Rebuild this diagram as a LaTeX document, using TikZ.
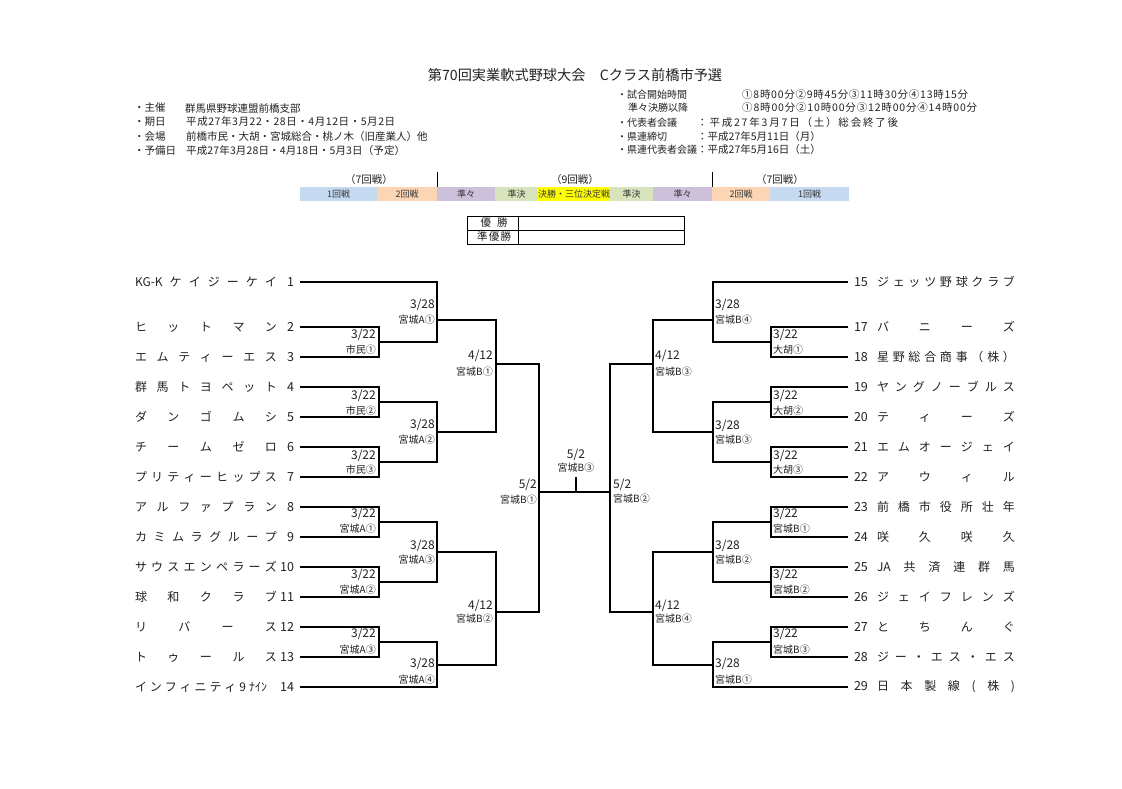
\documentclass[tikz,border=0pt]{standalone}
\usepackage{fontspec}
\setmainfont{Noto Sans CJK JP}
\makeatletter
\newcommand\spreadtext[2]{\hbox to #1{\@tfor\sp@c:=#2\do{\sp@c\hfil}\unskip}}
\makeatother
\definecolor{cblue}{HTML}{C5D9F1}
\definecolor{cpeach}{HTML}{FCD5B4}
\definecolor{clav}{HTML}{CCC0DA}
\definecolor{cgreen}{HTML}{D8E4BC}
\definecolor{cyel}{HTML}{FFFF00}
\definecolor{ink}{HTML}{222222}
\tikzset{
  bline/.style={line width=1.1pt, black},
  team/.style={inner sep=0pt, outer sep=0pt, text=ink, font=\fontsize{12}{14}\selectfont},
  ldate/.style={anchor=east, inner sep=0pt, text=ink, font=\fontsize{12}{14}\selectfont},
  lven/.style={anchor=east, inner sep=0pt, text=ink, font=\fontsize{10}{12}\selectfont},
  rdate/.style={anchor=west, inner sep=0pt, text=ink, font=\fontsize{12}{14}\selectfont},
  rven/.style={anchor=west, inner sep=0pt, text=ink, font=\fontsize{10}{12}\selectfont},
  info/.style={anchor=west, inner sep=0pt, text=ink, font=\fontsize{10.5}{12}\selectfont},
  rkey/.style={anchor=west, inner sep=0pt, text=ink, font=\fontsize{10}{12}\selectfont},
  cell/.style={inner sep=0pt, minimum height=14pt, text=ink!90, font=\fontsize{9}{10}\selectfont},
  grp/.style={inner sep=0pt, text=ink, font=\fontsize{10.5}{12}\selectfont},
}
\newcommand\lteamnode[5][142pt]{\node[team, anchor=west] (#2) at (135,#3) {\hbox to 165pt{\spreadtext{#1}{#4}\hfil{\fontsize{12.5}{14}\selectfont #5}\hspace{6pt}}};}
\newcommand\rteamnode[4]{\node[team, anchor=west] (#1) at (848,#2) {\hbox to 167pt{\hspace{6pt}{\fontsize{12.5}{14}\selectfont #4}\hfil\spreadtext{138pt}{#3}}};}
\begin{document}
\begin{tikzpicture}[x=1pt,y=-1pt]
\useasboundingbox (0,0) rectangle (1122,789);
\fill[white] (0,0) rectangle (1122,789);

% title
\node[inner sep=0pt, text=ink, font=\fontsize{14.2}{16}\selectfont] (title) at (575,75) {第70回実業軟式野球大会　Cクラス前橋市予選};

% left info
\node[info] (i1k) at (134,108) {・主催};
\node[info] (i1v) at (185,108) {\spreadtext{110pt}{群馬県野球連盟前橋支部}};
\node[info] (i2k) at (134,122) {・期日};
\node[info] (i2v) at (186,122) {\spreadtext{209pt}{平成27年3月22・28日・4月12日・5月2日}};
\node[info] (i3k) at (134,137) {・会場};
\node[info] (i3v) at (186,137) {\spreadtext{231pt}{前橋市民・大胡・宮城総合・桃ノ木（旧産業人）他}};
\node[info] (i4k) at (134,151) {・予備日};
\node[info] (i4v) at (186,151) {\spreadtext{219pt}{平成27年3月28日・4月18日・5月3日（予定）}};

% right info
\node[rkey] (j1k) at (617,95) {・試合開始時間};
\node[info] (j1v) at (742,95) {\spreadtext{226pt}{①8時00分②9時45分③11時30分④13時15分}};
\node[rkey] (j2k) at (628,108) {準々決勝以降};
\node[info] (j2v) at (742,108) {\spreadtext{235pt}{①8時00分②10時00分③12時00分④14時00分}};
\node[rkey] (j3k) at (617,123) {・代表者会議};
\node[info] (j3v) at (697,123) {\spreadtext{201pt}{：平成27年3月7日（土）総会終了後}};
\node[rkey] (j4k) at (617,137) {・県連締切};
\node[info] (j4v) at (697,137) {\spreadtext{121pt}{：平成27年5月11日（月）}};
\node[rkey] (j5k) at (617,150) {・県連代表者会議};
\node[info] (j5v) at (697,150) {\spreadtext{121pt}{：平成27年5月16日（土）}};

% round header
\node[grp] (g1) at (369,180) {（7回戦）};
\node[grp] (g2) at (575,180) {（9回戦）};
\node[grp] (g3) at (780,180) {（7回戦）};
\draw[line width=1pt] (437,172) -- (437,187);
\draw[line width=1pt] (712,172) -- (712,187);
\node[cell, fill=cblue, minimum width=77pt] (c1) at (338.5,194) {1回戦};
\node[cell, fill=cpeach, minimum width=60pt] (c2) at (407,194) {2回戦};
\node[cell, fill=clav, minimum width=58pt] (c3) at (466,194) {準々};
\node[cell, fill=cgreen, minimum width=43pt] (c4) at (516.5,194) {準決};
\node[cell, fill=cyel, minimum width=72pt] (c5) at (574,194) {決勝・三位決定戦};
\node[cell, fill=cgreen, minimum width=43pt] (c6) at (631.5,194) {準決};
\node[cell, fill=clav, minimum width=59pt] (c7) at (682.5,194) {準々};
\node[cell, fill=cpeach, minimum width=58pt] (c8) at (741,194) {2回戦};
\node[cell, fill=cblue, minimum width=79pt] (c9) at (809.5,194) {1回戦};

% winner table
\draw[line width=1pt] (467,216) rectangle (684,244);
\draw[line width=1pt] (467,230) -- (684,230);
\draw[line width=1pt] (518,216) -- (518,244);
\node[grp] (w1) at (494,223) {\spreadtext{27pt}{優勝}};
\node[grp] (w2) at (494,237) {\spreadtext{34pt}{準優勝}};

% left teams
\lteamnode{t1}{282}{{KG-K}ケイジーケイ}{1}
\lteamnode{t2}{327}{ヒットマン}{2}
\lteamnode{t3}{357}{エムティーエス}{3}
\lteamnode{t4}{387}{群馬トヨペット}{4}
\lteamnode{t5}{417}{ダンゴムシ}{5}
\lteamnode{t6}{447}{チームゼロ}{6}
\lteamnode{t7}{477}{プリティーヒップス}{7}
\lteamnode{t8}{507}{アルファプラン}{8}
\lteamnode{t9}{537}{カミムラグループ}{9}
\lteamnode{t10}{567}{サウスエンペラーズ}{10}
\lteamnode{t11}{597}{球和クラブ}{11}
\lteamnode{t12}{627}{リバース}{12}
\lteamnode{t13}{657}{トゥールス}{13}
\lteamnode[132pt]{t14}{687}{インフィニティ{9}{ﾅｲﾝ}}{14}

% right teams
\rteamnode{t15}{282}{ジェッツ野球クラブ}{15}
\rteamnode{t17}{327}{バニーズ}{17}
\rteamnode{t18}{357}{星野総合商事（株）}{18}
\rteamnode{t19}{387}{ヤングノーブルス}{19}
\rteamnode{t20}{417}{ティーズ}{20}
\rteamnode{t21}{447}{エムオージェイ}{21}
\rteamnode{t22}{477}{アウィル}{22}
\rteamnode{t23}{507}{前橋市役所壮年}{23}
\rteamnode{t24}{537}{咲久咲久}{24}
\rteamnode{t25}{567}{{JA}共済連群馬}{25}
\rteamnode{t26}{597}{ジェイフレンズ}{26}
\rteamnode{t27}{627}{とちんぐ}{27}
\rteamnode{t28}{657}{ジー・エス・エス}{28}
\rteamnode{t29}{687}{日本製線(株)}{29}

% junctions
\coordinate (L1a) at (379,342); \coordinate (L1b) at (379,402); \coordinate (L1c) at (379,462);
\coordinate (L1d) at (379,522); \coordinate (L1e) at (379,582); \coordinate (L1f) at (379,642);
\coordinate (L2a) at (437,320); \coordinate (L2b) at (437,432); \coordinate (L2c) at (437,552); \coordinate (L2d) at (437,665);
\coordinate (L3a) at (496,364); \coordinate (L3b) at (496,612);
\coordinate (FL) at (539,492); \coordinate (FR) at (610,492);
\coordinate (FC) at (576,492); \coordinate (FT) at (576,477);
\coordinate (R1a) at (771,342); \coordinate (R1b) at (771,402); \coordinate (R1c) at (771,462);
\coordinate (R1d) at (771,522); \coordinate (R1e) at (771,582); \coordinate (R1f) at (771,642);
\coordinate (R2a) at (713,320); \coordinate (R2b) at (713,432); \coordinate (R2c) at (713,552); \coordinate (R2d) at (713,665);
\coordinate (R3a) at (653,364); \coordinate (R3b) at (653,612);

% left bracket
\draw[bline] (t2.east) -| (L1a) |- (t3.east);
\draw[bline] (t4.east) -| (L1b) |- (t5.east);
\draw[bline] (t6.east) -| (L1c) |- (t7.east);
\draw[bline] (t8.east) -| (L1d) |- (t9.east);
\draw[bline] (t10.east) -| (L1e) |- (t11.east);
\draw[bline] (t12.east) -| (L1f) |- (t13.east);
\draw[bline] (t1.east) -| (L2a) |- (L1a);
\draw[bline] (L1b) -| (L2b) |- (L1c);
\draw[bline] (L1d) -| (L2c) |- (L1e);
\draw[bline] (L1f) -| (L2d) |- (t14.east);
\draw[bline] (L2a) -| (L3a) |- (L2b);
\draw[bline] (L2c) -| (L3b) |- (L2d);
\draw[bline] (L3a) -| (FL) |- (L3b);
\draw[bline] (FL) -- (FR);
\draw[bline] (FT) -- (FC);
% right bracket
\draw[bline] (t17.west) -| (R1a) |- (t18.west);
\draw[bline] (t19.west) -| (R1b) |- (t20.west);
\draw[bline] (t21.west) -| (R1c) |- (t22.west);
\draw[bline] (t23.west) -| (R1d) |- (t24.west);
\draw[bline] (t25.west) -| (R1e) |- (t26.west);
\draw[bline] (t27.west) -| (R1f) |- (t28.west);
\draw[bline] (t15.west) -| (R2a) |- (R1a);
\draw[bline] (R1b) -| (R2b) |- (R1c);
\draw[bline] (R1d) -| (R2c) |- (R1e);
\draw[bline] (R1f) -| (R2d) |- (t29.west);
\draw[bline] (R2a) -| (R3a) |- (R2b);
\draw[bline] (R2c) -| (R3b) |- (R2d);
\draw[bline] (R3a) -| (FR) |- (R3b);

% left labels
\node[ldate] (da1) at (376,335) {3/22}; \node[lven] (va1) at (376,350) {市民①};
\node[ldate] (da2) at (376,396) {3/22}; \node[lven] (va2) at (376,411) {市民②};
\node[ldate] (da3) at (376,456) {3/22}; \node[lven] (va3) at (376,470) {市民③};
\node[ldate] (da4) at (376,514) {3/22}; \node[lven] (va4) at (376,529) {宮城A①};
\node[ldate] (da5) at (376,575) {3/22}; \node[lven] (va5) at (376,590) {宮城A②};
\node[ldate] (da6) at (376,634) {3/22}; \node[lven] (va6) at (376,650) {宮城A③};
\node[ldate] (db1) at (435,305) {3/28}; \node[lven] (vb1) at (435,320) {宮城A①};
\node[ldate] (db2) at (435,425) {3/28}; \node[lven] (vb2) at (435,440) {宮城A②};
\node[ldate] (db3) at (435,546) {3/28}; \node[lven] (vb3) at (435,560) {宮城A③};
\node[ldate] (db4) at (435,664) {3/28}; \node[lven] (vb4) at (435,680) {宮城A④};
\node[ldate] (dc1) at (493,356) {4/12}; \node[lven] (vc1) at (493,372) {宮城B①};
\node[ldate] (dc2) at (493,606) {4/12}; \node[lven] (vc2) at (493,619) {宮城B②};
\node[ldate] (dfl) at (537,485) {5/2}; \node[lven] (vfl) at (537,500) {宮城B①};
% center
\node[inner sep=0pt, text=ink, font=\fontsize{12}{14}\selectfont] (dfc) at (576,455) {5/2};
\node[inner sep=0pt, text=ink, font=\fontsize{10}{12}\selectfont] (vfc) at (576,468) {宮城B③};
% right labels
\node[rdate] (ea1) at (773,335) {3/22}; \node[rven] (wa1) at (773,350) {大胡①};
\node[rdate] (ea2) at (773,396) {3/22}; \node[rven] (wa2) at (773,411) {大胡②};
\node[rdate] (ea3) at (773,456) {3/22}; \node[rven] (wa3) at (773,470) {大胡③};
\node[rdate] (ea4) at (773,514) {3/22}; \node[rven] (wa4) at (773,529) {宮城B①};
\node[rdate] (ea5) at (773,575) {3/22}; \node[rven] (wa5) at (773,590) {宮城B②};
\node[rdate] (ea6) at (773,634) {3/22}; \node[rven] (wa6) at (773,650) {宮城B③};
\node[rdate] (eb1) at (715,305) {3/28}; \node[rven] (wb1) at (715,320) {宮城B④};
\node[rdate] (eb2) at (715,426) {3/28}; \node[rven] (wb2) at (715,440) {宮城B③};
\node[rdate] (eb3) at (715,546) {3/28}; \node[rven] (wb3) at (715,560) {宮城B②};
\node[rdate] (eb4) at (715,664) {3/28}; \node[rven] (wb4) at (715,680) {宮城B①};
\node[rdate] (ec1) at (655,356) {4/12}; \node[rven] (wc1) at (655,372) {宮城B③};
\node[rdate] (ec2) at (655,606) {4/12}; \node[rven] (wc2) at (655,619) {宮城B④};
\node[rdate] (efr) at (613,485) {5/2}; \node[rven] (wfr) at (613,499) {宮城B②};
\end{tikzpicture}
\end{document}
